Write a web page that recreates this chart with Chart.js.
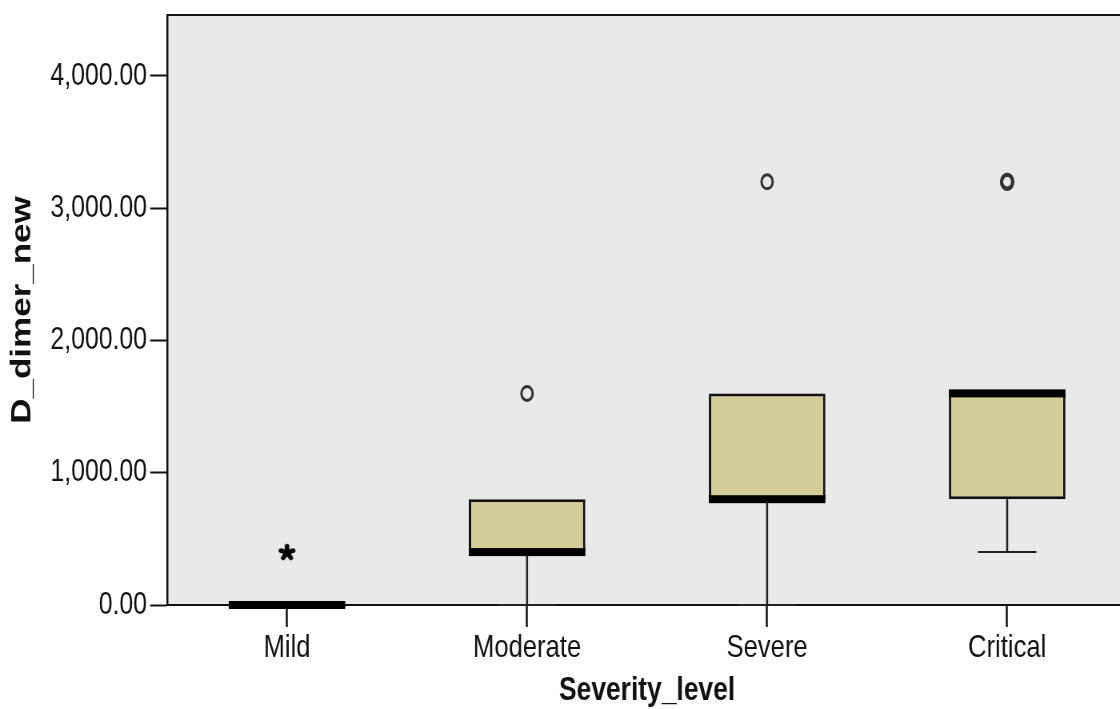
<!DOCTYPE html>
<html>
<head>
<meta charset="utf-8">
<script src="https://cdn.jsdelivr.net/npm/chart.js@4.4.1/dist/chart.umd.min.js"></script>
<style>
  body { margin: 0; background: #fff; }
  #wrap { width: 1120px; height: 709px; overflow: hidden; position: relative; }
  /* the source picture is squeezed horizontally, so the canvas is too */
  #boxChart { transform: scaleX(0.8); transform-origin: 0 0; }
</style>
</head>
<body>
<div id="wrap">
  <canvas id="boxChart" width="1420" height="709"></canvas>
</div>
<script>
// Box plot data (D_dimer_new by Severity_level)
const categories = ['Mild', 'Moderate', 'Severe', 'Critical'];
const q1 = [0, 400, 800, 800];
const median = [0, 400, 800, 1600];
const q3 = [0, 800, 1600, 1600];
const whiskerLow = [0, 0, 0, 400];
const whiskerHigh = [0, 800, 1600, 1600];
const outliers = [[], [1600], [3200], [3200, 3200]];
const extremes = [[400], [], [], []];
const yTicks = [0, 1000, 2000, 3000, 4000];

const SQUEEZE = 0.8;

// points for the circle / asterisk datasets
const outlierPoints = [];
categories.forEach((c, i) => outliers[i].forEach(v => outlierPoints.push({ x: c, y: v })));
const extremePoints = [];
categories.forEach((c, i) => extremes[i].forEach(v => extremePoints.push({ x: c, y: v })));

// SPSS style asterisk, drawn wider so it looks round after the squeeze
const star = document.createElement('canvas');
star.width = 24;
star.height = 20;
(function () {
    const s = star.getContext('2d');
    s.translate(12, 10.5);
    s.scale(1 / SQUEEZE, 1);
    s.strokeStyle = '#000';
    s.lineWidth = 4.5;
    s.lineCap = 'round';
    for (let k = 0; k < 5; k++) {
        const a = -Math.PI / 2 + k * 2 * Math.PI / 5;
        s.beginPath();
        s.moveTo(0, 0);
        s.lineTo(Math.cos(a) * 6.5, Math.sin(a) * 6.5);
        s.stroke();
    }
})();

// grey plot area + frame
const plotFrame = {
    id: 'plotFrame',
    beforeDraw(chart) {
        const { ctx, chartArea: a } = chart;
        ctx.save();
        ctx.fillStyle = '#e9e9e9';
        ctx.fillRect(a.left, a.top, a.right - a.left, a.bottom - a.top);
        ctx.restore();
    },
    afterDraw(chart) {
        const { ctx, chartArea: a } = chart;
        ctx.save();
        ctx.strokeStyle = '#111';
        ctx.lineWidth = 2;
        ctx.beginPath();
        ctx.moveTo(a.left, a.top);
        ctx.lineTo(a.right, a.top);
        ctx.stroke();
        ctx.lineWidth = 2.5;
        ctx.beginPath();
        ctx.moveTo(a.right, a.top);
        ctx.lineTo(a.right, a.bottom);
        ctx.stroke();
        ctx.restore();
    }
};

// whiskers and median bands
const boxParts = {
    id: 'boxParts',
    beforeDatasetDraw(chart, args) {
        if (args.index !== 0) return;
        const { ctx } = chart;
        const y = chart.scales.y;
        const bars = chart.getDatasetMeta(0).data;
        ctx.save();
        ctx.strokeStyle = '#222';
        bars.forEach((bar, i) => {
            const cx = bar.x;
            const half = bar.width / 2;
            const yq1 = y.getPixelForValue(q1[i]);
            const yq3 = y.getPixelForValue(q3[i]);
            const yLo = y.getPixelForValue(whiskerLow[i]);
            const yHi = y.getPixelForValue(whiskerHigh[i]);
            ctx.lineWidth = 2.5;
            ctx.beginPath();
            ctx.moveTo(cx, yq1); ctx.lineTo(cx, yLo);
            ctx.moveTo(cx, yq3); ctx.lineTo(cx, yHi);
            ctx.stroke();
            ctx.lineWidth = 2;
            ctx.beginPath();
            if (whiskerLow[i] < q1[i]) {
                ctx.moveTo(cx - half / 2, yLo); ctx.lineTo(cx + half / 2, yLo);
            }
            if (whiskerHigh[i] > q3[i]) {
                ctx.moveTo(cx - half / 2, yHi); ctx.lineTo(cx + half / 2, yHi);
            }
            ctx.stroke();
        });
        ctx.restore();
    },
    afterDatasetDraw(chart, args) {
        if (args.index !== 0) return;
        const { ctx } = chart;
        const y = chart.scales.y;
        const bars = chart.getDatasetMeta(0).data;
        ctx.save();
        ctx.fillStyle = '#000';
        bars.forEach((bar, i) => {
            const ym = y.getPixelForValue(median[i]);
            ctx.fillRect(bar.x - bar.width / 2, ym - 4, bar.width, 8);
        });
        ctx.restore();
    }
};

const ctx = document.getElementById('boxChart').getContext('2d');

const boxChart = new Chart(ctx, {
    type: 'bar',
    data: {
        labels: categories,
        datasets: [{
            label: 'Box',
            data: categories.map((c, i) => [q1[i], q3[i]]),
            backgroundColor: '#d3ce97',
            borderColor: '#111',
            borderWidth: 3,
            borderSkipped: false,
            barPercentage: 0.4855,
            categoryPercentage: 1
        }, {
            type: 'line',
            label: 'Outliers',
            data: outlierPoints,
            showLine: false,
            pointStyle: 'circle',
            pointRadius: 7,
            pointBorderWidth: c => {
                const p = c.raw;
                if (!p) return 3;
                const n = outlierPoints.filter(q => q.x === p.x && q.y === p.y).length;
                return n > 1 ? 4 : 3;
            },
            pointBorderColor: '#333',
            pointBackgroundColor: 'rgba(0,0,0,0)'
        }, {
            type: 'line',
            label: 'Extremes',
            data: extremePoints,
            showLine: false,
            pointStyle: star
        }]
    },
    options: {
        responsive: false,
        animation: false,
        layout: { padding: { top: 15, right: 6.25, bottom: 0, left: 0 } },
        plugins: {
            legend: { display: false },
            tooltip: { enabled: false }
        },
        scales: {
            x: {
                offset: true,
                grid: {
                    offset: false,
                    drawOnChartArea: false,
                    drawTicks: true,
                    tickLength: 22,
                    tickWidth: 2.5,
                    tickColor: '#111'
                },
                border: { display: true, color: '#111', width: 2 },
                ticks: {
                    color: '#111',
                    padding: 2,
                    font: { family: "'Liberation Sans', Arial, sans-serif", size: 32 }
                },
                title: {
                    display: true,
                    text: 'Severity_level',
                    color: '#111',
                    padding: { top: 0, bottom: 2 },
                    font: { family: "'Liberation Sans', Arial, sans-serif", size: 33, weight: 'bold', lineHeight: 1 }
                },
                afterFit(s) {
                    s.height = 104;
                    s.paddingLeft = 0;
                    s.paddingRight = 0;
                }
            },
            y: {
                min: 0,
                max: 4461,
                grid: {
                    drawOnChartArea: false,
                    drawTicks: true,
                    tickLength: 21,
                    tickWidth: 2,
                    tickColor: '#111'
                },
                border: { display: true, color: '#111', width: 2.5 },
                afterBuildTicks(s) {
                    s.ticks = yTicks.map(v => ({ value: v }));
                },
                ticks: {
                    color: '#111',
                    padding: 4,
                    font: { family: "'Liberation Sans', Arial, sans-serif", size: 31 },
                    callback: v => Number(v).toLocaleString('en-US', { minimumFractionDigits: 2, maximumFractionDigits: 2 })
                },
                title: {
                    display: true,
                    text: 'D_dimer_new',
                    color: '#111',
                    padding: { top: 7, bottom: 7 },
                    font: { family: "'Liberation Sans', Arial, sans-serif", size: 35, weight: 'bold', lineHeight: 1.2 }
                },
                afterFit(s) {
                    s.width = 208.75;
                    s.paddingTop = 0;
                    s.paddingBottom = 0;
                }
            }
        }
    },
    plugins: [plotFrame, boxParts]
});
</script>
</body>
</html>
